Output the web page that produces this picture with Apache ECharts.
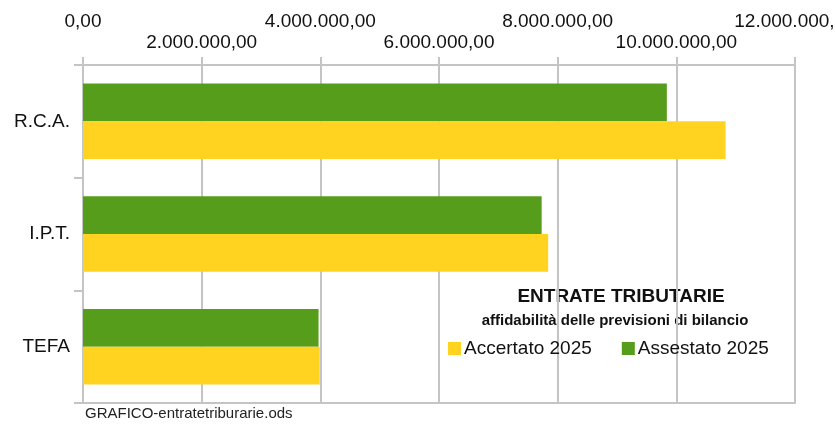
<!DOCTYPE html>
<html>
<head>
<meta charset="utf-8">
<script src="https://cdn.jsdelivr.net/npm/echarts@6/dist/echarts.min.js"></script>
<style>html,body{margin:0;padding:0;background:#fff}#c{width:835px;height:425px}</style>
</head>
<body>
<div id="c"></div>
<script>
var categories = ['R.C.A.', 'I.P.T.', 'TEFA'];
var assestato2025 = [9840000, 7730000, 3970000];
var accertato2025 = [10830000, 7840000, 3990000];
var seriesNames = ['Accertato 2025', 'Assestato 2025'];
var titleText = 'ENTRATE TRIBUTARIE';
var subtitleText = 'affidabilità delle previsioni di bilancio';
var footText = 'GRAFICO-entratetriburarie.ods';
var axisMin = 0, axisMax = 12000000, axisStep = 2000000;

function fmtIt(v) {
  var s = Math.round(v).toString();
  var out = '';
  while (s.length > 3) { out = '.' + s.slice(-3) + out; s = s.slice(0, -3); }
  return s + out + ',00';
}
function isUpper(v) { return Math.round(v / axisStep) % 2 === 0; }

var gridColor = '#c4c4c4';
var font = 'Liberation Sans, Arial, sans-serif';
var labelBase = { fontSize: 19, color: '#111', showMaxLabel: true, showMinLabel: true, hideOverlap: false };
var chart = echarts.init(document.getElementById('c'));
chart.setOption({
  animation: false,
  textStyle: { fontFamily: font },
  grid: { left: 83, right: 40, top: 65, bottom: 22, containLabel: false, outerBoundsMode: 'none' },
  legend: {
    data: seriesNames,
    left: 443, top: 334,
    itemWidth: 13, itemHeight: 13, itemGap: 30,
    icon: 'rect',
    textStyle: { fontSize: 19, color: '#111', fontFamily: font, padding: [0, 0, 0, -2] }
  },
  graphic: [
    { type: 'text', x: 621, y: 297, style: { text: titleText, fill: '#111', font: 'bold 19px Liberation Sans, Arial, sans-serif', align: 'center', verticalAlign: 'middle' } },
    { type: 'text', x: 615, y: 321, style: { text: subtitleText, fill: '#111', font: 'bold 15px Liberation Sans, Arial, sans-serif', align: 'center', verticalAlign: 'middle' } },
    { type: 'text', x: 85, y: 414, style: { text: footText, fill: '#222', font: '15px Liberation Sans, Arial, sans-serif', align: 'left', verticalAlign: 'middle' } }
  ],
  xAxis: [{
    type: 'value', position: 'top', min: axisMin, max: axisMax, interval: axisStep,
    axisLine: { show: true, lineStyle: { color: gridColor, width: 2 } },
    axisTick: { show: true, length: 8, lineStyle: { color: gridColor, width: 2 } },
    splitLine: { show: true, lineStyle: { color: gridColor, width: 2 } },
    axisLabel: Object.assign({}, labelBase, {
      margin: 13,
      formatter: function (v) { return isUpper(v) ? '' : fmtIt(v); }
    })
  }, {
    type: 'value', position: 'top', min: axisMin, max: axisMax, interval: axisStep,
    axisLine: { show: false }, axisTick: { show: false }, splitLine: { show: false },
    axisLabel: Object.assign({}, labelBase, {
      margin: 34,
      formatter: function (v) { return isUpper(v) ? fmtIt(v) : ''; }
    })
  }, {
    type: 'value', position: 'bottom', min: axisMin, max: axisMax, interval: axisStep,
    axisLine: { show: true, lineStyle: { color: gridColor, width: 2 } },
    axisTick: { show: false }, axisLabel: { show: false }, splitLine: { show: false }
  }],
  yAxis: {
    type: 'category', data: categories, inverse: true,
    axisLine: { show: true, lineStyle: { color: gridColor, width: 2 } },
    axisTick: { show: true, length: 9, lineStyle: { color: gridColor, width: 2 } },
    axisLabel: { margin: 13, fontSize: 19, color: '#111' }
  },
  series: [
    { name: seriesNames[1], type: 'bar', data: assestato2025, itemStyle: { color: '#579d1c' }, barGap: '0%', barCategoryGap: '33%' },
    { name: seriesNames[0], type: 'bar', data: accertato2025, itemStyle: { color: '#ffd320' }, barGap: '0%', barCategoryGap: '33%' }
  ]
});
</script>
</body>
</html>
